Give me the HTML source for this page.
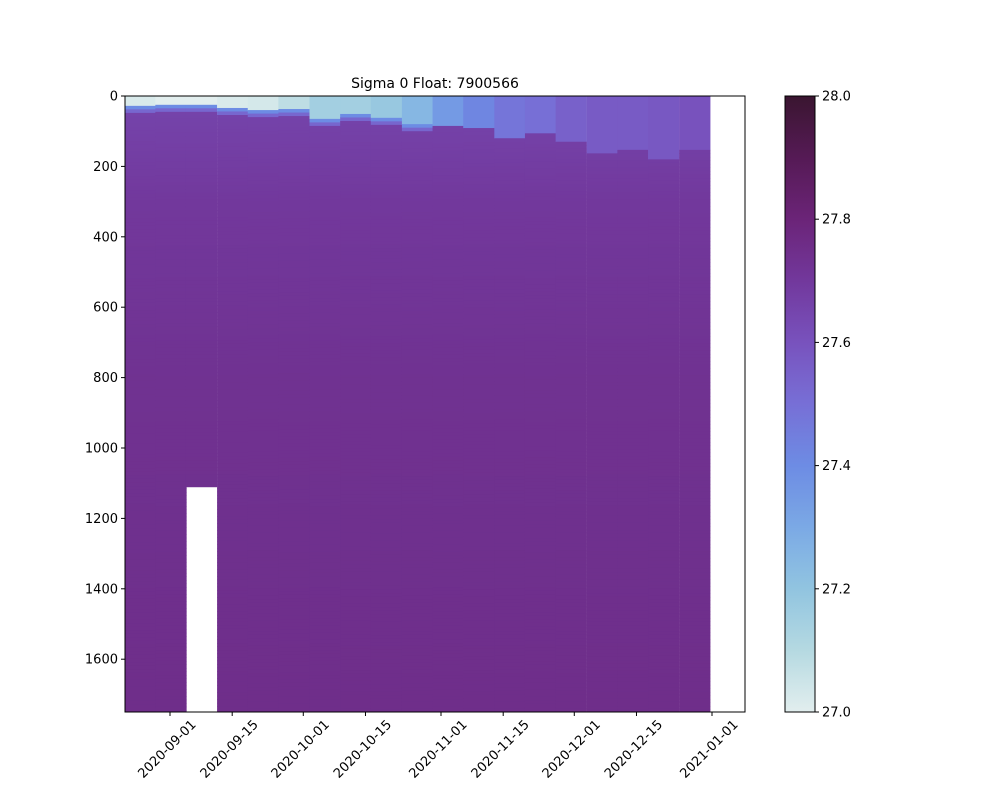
<!DOCTYPE html>
<html><head><meta charset="utf-8"><style>body{margin:0;background:#fff}svg{display:block;font-family:"DejaVu Sans","Liberation Sans",sans-serif}</style></head>
<body>
<svg id="chart" width="1000" height="800" viewBox="0 0 1000 800" xmlns="http://www.w3.org/2000/svg">
<text x="435" y="88" font-size="14" text-anchor="middle">Sigma 0 Float: 7900566</text>
<g id="plot"></g>
<g id="axes"></g>
<defs><linearGradient id="cbg" x1="0" y1="1" x2="0" y2="0"></linearGradient></defs>
<g id="cbar"></g>
</svg>
<script>
const profileDays=[-10.2,-3.3,3.6,10.6,17.5,24.4,31.4,38.3,45.2,52.2,59.1,66.0,73.0,79.9,86.8,93.8,100.7,107.6,114.6];
const surfaceSigma=[27.02,27.0,27.0,27.02,27.03,27.08,27.15,27.15,27.18,27.25,27.35,27.42,27.48,27.5,27.55,27.57,27.57,27.58,27.6];
const mixedLayerDepth=[28,25,25,34,40,37,65,51,62,80,85,91,120,106,130,163,153,180,153];
const maxDepth=[1750,1750,1110,1750,1750,1750,1750,1750,1750,1750,1750,1750,1750,1750,1750,1750,1750,1750,1750];
const deepLevels=[0,300,800,1750];
const deepSigma=[27.65,27.7,27.73,27.75];
const yTicks=[0,200,400,600,800,1000,1200,1400,1600];
const xTickLabels=["2020-09-01","2020-09-15","2020-10-01","2020-10-15","2020-11-01","2020-11-15","2020-12-01","2020-12-15","2021-01-01"];
const xTickDays=[0,14,30,44,61,75,91,105,122];
const cbTicks=[27.0,27.2,27.4,27.6,27.8,28.0];

const X0=125,X1=745,Y0=96,Y1=712;
const xs=d=>170+d*(712-170)/122;
const ys=z=>Y0+z*(Y1-Y0)/1750;
const cstops=[[27.0,"#e2eeee"],[27.1,"#b5d9e1"],[27.2,"#91c4e0"],[27.3,"#7ba9e5"],[27.4,"#6d8ce4"],[27.5,"#776fd6"],[27.6,"#7852bd"],[27.7,"#72389c"],[27.8,"#6b2478"],[27.9,"#551a55"],[28.0,"#3a1530"]];
function hex(h){return [1,3,5].map(i=>parseInt(h.substr(i,2),16));}
function cmap(v){v=Math.max(27,Math.min(28,v));for(let i=0;i<cstops.length-1;i++){const[a,ca]=cstops[i],[b,cb]=cstops[i+1];if(v<=b){const t=(v-a)/(b-a),A=hex(ca),B=hex(cb);return`rgb(${A.map((x,k)=>Math.round(x+(B[k]-x)*t)).join(",")})`;}}return cstops[10][1];}
const NS="http://www.w3.org/2000/svg";
function mk(tag,at,parent){const e=document.createElementNS(NS,tag);for(const k in at)e.setAttribute(k,at[k]);parent.appendChild(e);return e;}
const plot=document.getElementById("plot");
function deepVal(z){for(let i=0;i<deepLevels.length-1;i++){if(z<=deepLevels[i+1]){const t=(z-deepLevels[i])/(deepLevels[i+1]-deepLevels[i]);return deepSigma[i]+(deepSigma[i+1]-deepSigma[i])*t;}}return deepSigma[deepSigma.length-1];}
profileDays.forEach((d,i)=>{
  const xa=xs(d),xb=xs(d+6.93);
  const g=mk("g",{},plot);
  
  
  const mld=mixedLayerDepth[i];
  mk("rect",{x:xa,y:ys(0),width:xb-xa+0.5,height:ys(mld)-ys(0)+0.5,fill:cmap(surfaceSigma[i])},g);
  const step=10;
  for(let z=mld;z<maxDepth[i];z+=step){
    const z2=Math.min(z+step,maxDepth[i]);
    let v=deepVal(z);
    if(surfaceSigma[i]<27.3&&z-mld<20){const t=(z-mld)/20;v=27.4+(v-27.4)*t;}
    mk("rect",{x:xa,y:ys(z),width:xb-xa+0.5,height:ys(z2)-ys(z)+0.5,fill:cmap(v)},g);
  }
});
const ax=document.getElementById("axes");
mk("rect",{x:X0,y:Y0,width:X1-X0,height:Y1-Y0,fill:"none",stroke:"#000","stroke-width":1},ax);
yTicks.forEach(t=>{const y=ys(t);
  mk("line",{x1:X0-4,x2:X0,y1:y,y2:y,stroke:"#000"},ax);
  const tx=mk("text",{x:X0-7,y:y+4.5,"font-size":13,"text-anchor":"end"},ax);tx.textContent=t;
  });
xTickDays.forEach((d,i)=>{const x=xs(d);
  mk("line",{x1:x,x2:x,y1:Y1,y2:Y1+4,stroke:"#000"},ax);
  const tx=mk("text",{x:x,y:752,"font-size":13,"text-anchor":"middle",transform:`rotate(-45 ${x} 752)`},ax);tx.textContent=xTickLabels[i];
  });
const grad=document.getElementById("cbg");
for(let k=0;k<=20;k++){const v=27+k/20;mk("stop",{offset:(k/20),"stop-color":cmap(v)},grad);}
const cb=document.getElementById("cbar");
const CX=785,CW=30;
mk("rect",{x:CX,y:Y0,width:CW,height:Y1-Y0,fill:"url(#cbg)",stroke:"#000","stroke-width":1},cb);
const cy=v=>Y1-(v-27)*(Y1-Y0);
cbTicks.forEach(t=>{const y=cy(t);
  mk("line",{x1:CX+CW,x2:CX+CW+4,y1:y,y2:y,stroke:"#000"},cb);
  const tx=mk("text",{x:CX+CW+7,y:y+4.5,"font-size":13},cb);tx.textContent=t.toFixed(1);
  });
</script>
</body></html>
